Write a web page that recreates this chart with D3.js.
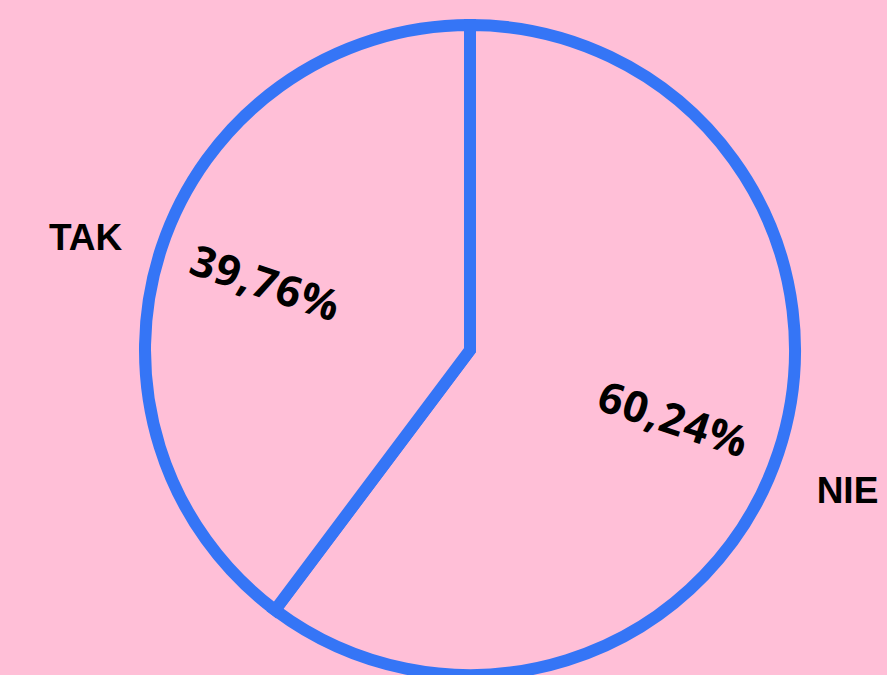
<!DOCTYPE html>
<html>
<head>
<meta charset="utf-8">
<script src="https://cdn.jsdelivr.net/npm/d3@7"></script>
<style>
  html, body { margin: 0; padding: 0; background: #FFBFD7; }
  svg { display: block; }
</style>
</head>
<body>
<svg id="chart" width="887" height="675"></svg>
<script>
const categories = ["NIE", "TAK"];
const values = [60.24, 39.76];
const valueLabels = ["60,24%", "39,76%"];

const width = 887, height = 675;
const cx = 470, cy = 350, radius = 325;
const bg = "#FFBFD7", blue = "#3575F6";

const svg = d3.select("#chart");
svg.append("rect").attr("width", width).attr("height", height).attr("fill", bg);

const g = svg.append("g").attr("transform", `translate(${cx},${cy})`);

const pie = d3.pie().sort(null).value(d => d.value);
const data = pie(categories.map((c, i) => ({ cat: c, value: values[i], label: valueLabels[i] })));

const arc = d3.arc().innerRadius(0).outerRadius(radius);
const inner = d3.arc().innerRadius(215).outerRadius(215);
const outer = d3.arc().innerRadius(400).outerRadius(400);

g.selectAll("path.slice").data(data).join("path")
  .attr("class", "slice")
  .attr("d", arc)
  .attr("fill", bg)
  .attr("stroke", blue)
  .attr("stroke-width", 12)
  .attr("stroke-linejoin", "miter");

g.selectAll("text.pct").data(data).join("text")
  .attr("class", "pct")
  .attr("transform", d => {
    const [x, y] = inner.centroid(d);
    let mid = (d.startAngle + d.endAngle) / 2 * 180 / Math.PI;
    let rot = mid - 90;
    if (rot > 90) rot -= 180;
    return `translate(${x},${y}) rotate(${rot})`;
  })
  .attr("text-anchor", "middle")
  .attr("dominant-baseline", "central")
  .attr("font-family", "'Open Sans', sans-serif")
  .attr("font-weight", 700)
  .attr("font-size", 43)
  .attr("letter-spacing", 1)
  .attr("fill", "#000")
  .text(d => d.data.label);

g.selectAll("text.cat").data(data).join("text")
  .attr("class", "cat")
  .attr("transform", d => {
    const [x, y] = outer.centroid(d);
    const dx = x < 0 ? -5 : -2;
    return `translate(${x + dx},${y + 14})`;
  })
  .attr("text-anchor", "middle")
  .attr("dominant-baseline", "central")
  .attr("font-family", "'Liberation Sans', Arial, sans-serif")
  .attr("font-weight", 700)
  .attr("font-size", 37)
  .attr("fill", "#000")
  .text(d => d.data.cat);
</script>
</body>
</html>
